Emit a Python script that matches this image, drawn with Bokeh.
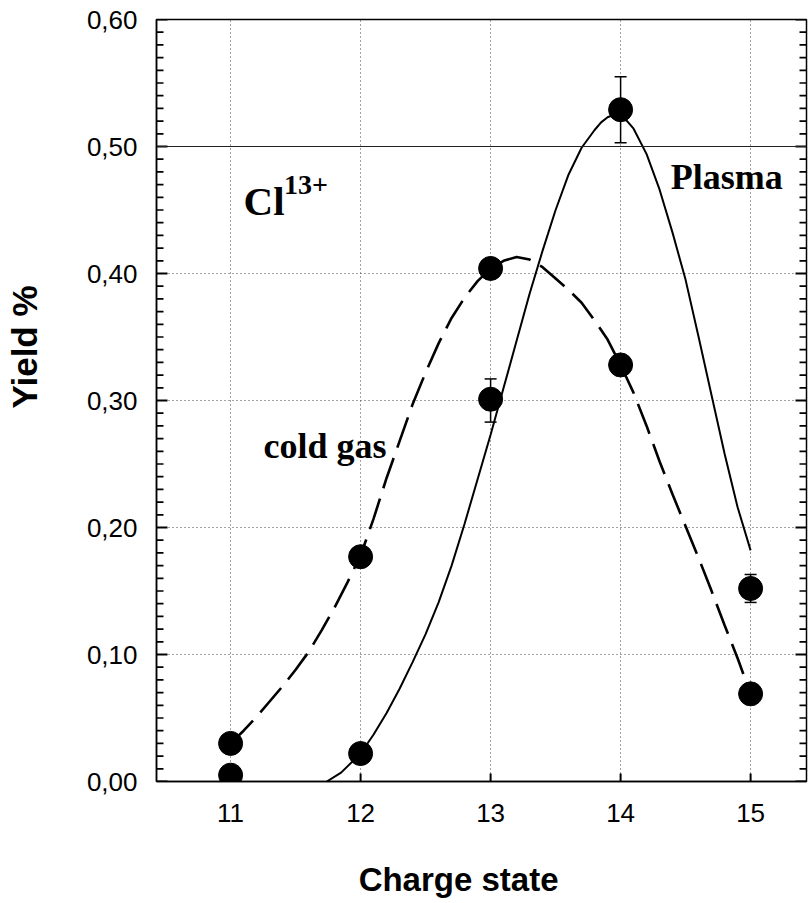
import math
from bokeh.plotting import figure
from bokeh.models import (Range1d, FixedTicker, CustomJSTickFormatter,
                          ColumnDataSource, Whisker, TeeHead, Label, Span)
from bokeh.embed import file_html
from bokeh.resources import INLINE

# Measured yields per charge state
charge_states = [11, 12, 13, 14, 15]
yield_cold = [0.030, 0.177, 0.404, 0.328, 0.069]
yield_plasma = [0.005, 0.022, 0.301, 0.529, 0.152]

# Error bars on the plasma series
err_states = [13, 14, 15]
err_plasma_low = [0.283, 0.503, 0.141]
err_plasma_high = [0.317, 0.555, 0.163]

# Fitted distribution curves
fit_plasma_x = [11.74, 11.85, 12.00, 12.10, 12.20, 12.30, 12.40, 12.50, 12.60, 12.70,
                12.80, 12.90, 13.00, 13.10, 13.20, 13.30, 13.40, 13.50, 13.60, 13.70,
                13.80, 13.85, 13.90, 13.95, 14.00, 14.05, 14.10, 14.20, 14.30, 14.40,
                14.50, 14.60, 14.70, 14.80, 14.90, 15.00]
fit_plasma_y = [0.000, 0.007, 0.022, 0.037, 0.054, 0.073, 0.094, 0.116, 0.141, 0.170,
                0.203, 0.238, 0.273, 0.310, 0.347, 0.384, 0.418, 0.450, 0.478, 0.499,
                0.513, 0.519, 0.523, 0.525, 0.524, 0.520, 0.514, 0.494, 0.466, 0.432,
                0.395, 0.350, 0.304, 0.258, 0.216, 0.182]

fit_cold_x = [11.0, 11.1, 11.2, 11.3, 11.4, 11.5, 11.6, 11.7, 11.8, 11.9,
              12.0, 12.1, 12.2, 12.3, 12.4, 12.5, 12.6, 12.7, 12.8, 12.9,
              13.0, 13.1, 13.2, 13.3, 13.4, 13.5, 13.6, 13.7, 13.8, 13.9,
              14.0, 14.1, 14.2, 14.3, 14.4, 14.5, 14.6, 14.7, 14.8, 14.9, 15.0]
fit_cold_y = [0.030, 0.040, 0.051, 0.063, 0.075, 0.088, 0.102, 0.119, 0.137, 0.157,
              0.178, 0.207, 0.239, 0.268, 0.297, 0.322, 0.345, 0.365, 0.381, 0.394,
              0.404, 0.410, 0.413, 0.411, 0.405, 0.396, 0.387, 0.377, 0.363, 0.348,
              0.328, 0.306, 0.280, 0.252, 0.226, 0.201, 0.176, 0.150, 0.123, 0.097, 0.069]

x_ticks = [11, 12, 13, 14, 15]
y_ticks = [0.0, 0.1, 0.2, 0.3, 0.4, 0.5, 0.6]
y_minor_ticks = [round(i * 0.01, 2) for i in range(61) if i % 10 != 0]

X_LO, X_HI = 10.43, 15.43
Y_LO, Y_HI = 0.0, 0.6
FRAME_W, FRAME_H = 650, 762
DX = (X_HI - X_LO) / FRAME_W   # data units per screen pixel, horizontally
DY = (Y_HI - Y_LO) / FRAME_H   # data units per screen pixel, vertically

SANS = "Liberation Sans"
SERIF = "Liberation Serif"
NBSP = "\u00a0"

p = figure(width=812, height=903,
           x_range=Range1d(X_LO, X_HI), y_range=Range1d(Y_LO, Y_HI),
           output_backend="svg", toolbar_location=None,
           min_border_left=156, min_border_right=6, min_border_top=19, min_border_bottom=122,
           background_fill_color="white", border_fill_color="white",
           outline_line_color="black", outline_line_width=1.5)

# Bottom axis; the title is padded on its right so that it sits left of centre
xa = p.xaxis[0]
xa.ticker = FixedTicker(ticks=x_ticks)
xa.axis_label = "Charge state" + NBSP * 5
xa.axis_label_text_font = SANS
xa.axis_label_text_font_style = "bold"
xa.axis_label_text_font_size = "33px"
xa.axis_label_text_color = "black"
xa.axis_label_standoff = 36
xa.major_label_text_font = SANS
xa.major_label_text_font_size = "26px"
xa.major_label_text_color = "black"
xa.major_label_standoff = 16
xa.major_tick_line_color = None
xa.minor_tick_line_color = None
xa.axis_line_width = 1.5
xa.axis_line_color = "black"

# Left axis; the title is padded at its start so that it sits above centre
ya = p.yaxis[0]
ya.ticker = FixedTicker(ticks=y_ticks)
ya.formatter = CustomJSTickFormatter(code="return tick.toFixed(2).replace('.', ',');")
ya.axis_label = NBSP * 11 + "Yield %"
ya.axis_label_text_font = SANS
ya.axis_label_text_font_style = "bold"
ya.axis_label_text_font_size = "35px"
ya.axis_label_text_color = "black"
ya.axis_label_standoff = 40
ya.major_label_text_font = SANS
ya.major_label_text_font_size = "26px"
ya.major_label_text_color = "black"
ya.major_label_standoff = 13
ya.major_tick_line_color = None
ya.minor_tick_line_color = None
ya.axis_line_width = 1.5
ya.axis_line_color = "black"

# Dotted grid
p.xgrid.ticker = FixedTicker(ticks=x_ticks)
p.ygrid.ticker = FixedTicker(ticks=y_ticks)
for g in (p.xgrid[0], p.ygrid[0]):
    g.grid_line_color = "#444444"
    g.grid_line_dash = "1 3"
    g.grid_line_width = 1
p.add_layout(Span(location=0.5, dimension="width", line_color="#222222", line_width=1.2))


def comb(start, end, positions, horizontal):
    """One broken polyline holding a short tick at every position."""
    xs, ys = [], []
    for pos in positions:
        if horizontal:
            xs += [start, end, float("nan")]
            ys += [pos, pos, float("nan")]
        else:
            xs += [pos, pos, float("nan")]
            ys += [start, end, float("nan")]
    return xs, ys


# Inward tick marks on the left, right and bottom edges
for x_edge, sign in ((X_LO, 1), (X_HI, -1)):
    mx, my = comb(x_edge, x_edge + sign * 11 * DX, y_ticks, True)
    p.line(mx, my, line_color="black", line_width=2)
    nx, ny = comb(x_edge, x_edge + sign * 7 * DX, y_minor_ticks, True)
    p.line(nx, ny, line_color="black", line_width=1.7)
bx, by = comb(Y_LO, Y_LO + 8 * DY, x_ticks, False)
p.line(bx, by, line_color="black", line_width=2)

# Fitted curves
p.line(fit_cold_x, fit_cold_y, line_color="black", line_width=2.6, line_dash="32 11")
p.line(fit_plasma_x, fit_plasma_y, line_color="black", line_width=2)

# Error bars
err_src = ColumnDataSource(dict(x=err_states, lo=err_plasma_low, hi=err_plasma_high))
p.add_layout(Whisker(source=err_src, base="x", lower="lo", upper="hi",
                     line_color="black", line_width=1.5,
                     upper_head=TeeHead(size=12, line_color="black", line_width=1.5),
                     lower_head=TeeHead(size=12, line_color="black", line_width=1.5)))

# Data points
p.scatter(charge_states, yield_cold, size=24, marker="circle",
          fill_color="black", line_color="black")
p.scatter(charge_states, yield_plasma, size=24, marker="circle",
          fill_color="black", line_color="black")

# Annotations
p.add_layout(Label(x=11.10, y=0.457, text="Cl", text_font=SERIF, text_font_style="bold",
                   text_font_size="41px", text_color="black", text_baseline="alphabetic"))
p.add_layout(Label(x=11.41, y=0.470, text="13+", text_font=SERIF, text_font_style="bold",
                   text_font_size="28px", text_color="black", text_baseline="alphabetic"))
p.add_layout(Label(x=14.385, y=0.476, text="Plasma", text_font=SERIF, text_font_style="bold",
                   text_font_size="36px", text_color="black", text_baseline="alphabetic"))
p.add_layout(Label(x=11.254, y=0.264, text="cold gas", text_font=SERIF, text_font_style="bold",
                   text_font_size="36px", text_color="black", text_baseline="alphabetic"))

open("out.html", "w").write(file_html(p, INLINE))
